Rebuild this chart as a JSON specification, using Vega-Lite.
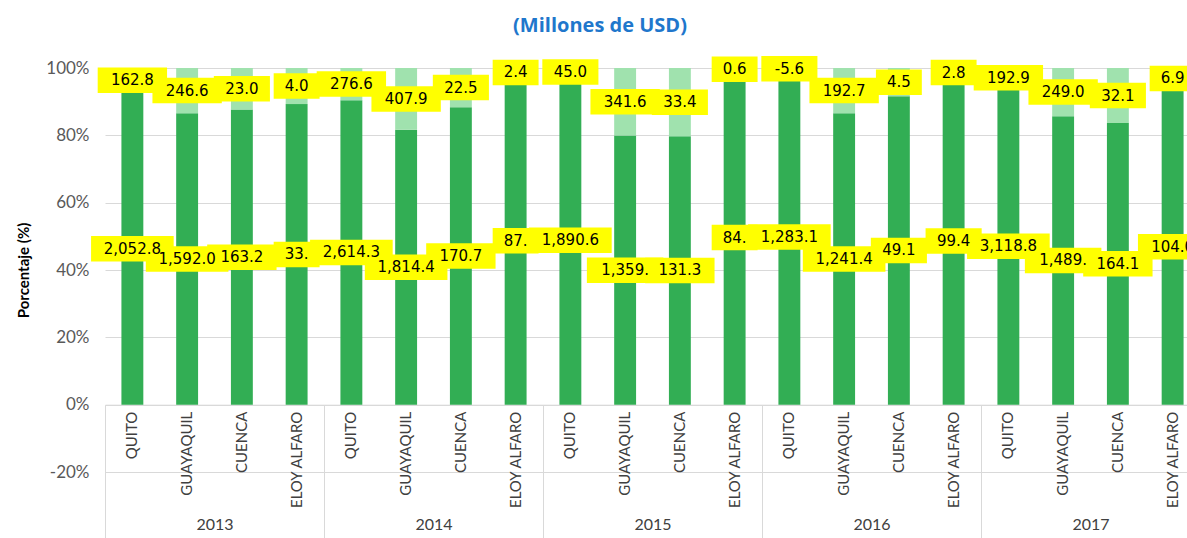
{
  "$schema": "https://vega.github.io/schema/vega-lite/v6.json",
  "width": 1082,
  "height": 404,
  "autosize": {"type": "none"},
  "padding": {"left": 105, "top": 68, "right": 0, "bottom": 66},
  "background": "white",
  "title": {
    "text": "(Millones de USD)",
    "color": "#1F77CC",
    "font": "Open Sans",
    "fontSize": 20,
    "fontWeight": "bold",
    "anchor": "middle",
    "frame": "group",
    "dx": -46,
    "offset": 20
  },
  "config": {"view": {"stroke": null}, "font": "Lato"},
  "data": {
    "values": [
      {"year": "2013", "city": "QUITO", "serie": "Serie 1", "value": 2052.8, "label": "2,052.8"},
      {"year": "2013", "city": "QUITO", "serie": "Serie 2", "value": 162.8, "label": "162.8"},
      {"year": "2013", "city": "GUAYAQUIL", "serie": "Serie 1", "value": 1592.0, "label": "1,592.0"},
      {"year": "2013", "city": "GUAYAQUIL", "serie": "Serie 2", "value": 246.6, "label": "246.6"},
      {"year": "2013", "city": "CUENCA", "serie": "Serie 1", "value": 163.2, "label": "163.2"},
      {"year": "2013", "city": "CUENCA", "serie": "Serie 2", "value": 23.0, "label": "23.0"},
      {"year": "2013", "city": "ELOY ALFARO", "serie": "Serie 1", "value": 33.3, "label": "33."},
      {"year": "2013", "city": "ELOY ALFARO", "serie": "Serie 2", "value": 4.0, "label": "4.0"},
      {"year": "2014", "city": "QUITO", "serie": "Serie 1", "value": 2614.3, "label": "2,614.3"},
      {"year": "2014", "city": "QUITO", "serie": "Serie 2", "value": 276.6, "label": "276.6"},
      {"year": "2014", "city": "GUAYAQUIL", "serie": "Serie 1", "value": 1814.4, "label": "1,814.4"},
      {"year": "2014", "city": "GUAYAQUIL", "serie": "Serie 2", "value": 407.9, "label": "407.9"},
      {"year": "2014", "city": "CUENCA", "serie": "Serie 1", "value": 170.7, "label": "170.7"},
      {"year": "2014", "city": "CUENCA", "serie": "Serie 2", "value": 22.5, "label": "22.5"},
      {"year": "2014", "city": "ELOY ALFARO", "serie": "Serie 1", "value": 87.5, "label": "87."},
      {"year": "2014", "city": "ELOY ALFARO", "serie": "Serie 2", "value": 2.4, "label": "2.4"},
      {"year": "2015", "city": "QUITO", "serie": "Serie 1", "value": 1890.6, "label": "1,890.6"},
      {"year": "2015", "city": "QUITO", "serie": "Serie 2", "value": 45.0, "label": "45.0"},
      {"year": "2015", "city": "GUAYAQUIL", "serie": "Serie 1", "value": 1359.5, "label": "1,359."},
      {"year": "2015", "city": "GUAYAQUIL", "serie": "Serie 2", "value": 341.6, "label": "341.6"},
      {"year": "2015", "city": "CUENCA", "serie": "Serie 1", "value": 131.3, "label": "131.3"},
      {"year": "2015", "city": "CUENCA", "serie": "Serie 2", "value": 33.4, "label": "33.4"},
      {"year": "2015", "city": "ELOY ALFARO", "serie": "Serie 1", "value": 84.5, "label": "84."},
      {"year": "2015", "city": "ELOY ALFARO", "serie": "Serie 2", "value": 0.6, "label": "0.6"},
      {"year": "2016", "city": "QUITO", "serie": "Serie 1", "value": 1283.1, "label": "1,283.1"},
      {"year": "2016", "city": "QUITO", "serie": "Serie 2", "value": -5.6, "label": "-5.6"},
      {"year": "2016", "city": "GUAYAQUIL", "serie": "Serie 1", "value": 1241.4, "label": "1,241.4"},
      {"year": "2016", "city": "GUAYAQUIL", "serie": "Serie 2", "value": 192.7, "label": "192.7"},
      {"year": "2016", "city": "CUENCA", "serie": "Serie 1", "value": 49.1, "label": "49.1"},
      {"year": "2016", "city": "CUENCA", "serie": "Serie 2", "value": 4.5, "label": "4.5"},
      {"year": "2016", "city": "ELOY ALFARO", "serie": "Serie 1", "value": 99.4, "label": "99.4"},
      {"year": "2016", "city": "ELOY ALFARO", "serie": "Serie 2", "value": 2.8, "label": "2.8"},
      {"year": "2017", "city": "QUITO", "serie": "Serie 1", "value": 3118.8, "label": "3,118.8"},
      {"year": "2017", "city": "QUITO", "serie": "Serie 2", "value": 192.9, "label": "192.9"},
      {"year": "2017", "city": "GUAYAQUIL", "serie": "Serie 1", "value": 1489.5, "label": "1,489."},
      {"year": "2017", "city": "GUAYAQUIL", "serie": "Serie 2", "value": 249.0, "label": "249.0"},
      {"year": "2017", "city": "CUENCA", "serie": "Serie 1", "value": 164.1, "label": "164.1"},
      {"year": "2017", "city": "CUENCA", "serie": "Serie 2", "value": 32.1, "label": "32.1"},
      {"year": "2017", "city": "ELOY ALFARO", "serie": "Serie 1", "value": 104.0, "label": "104.0"},
      {"year": "2017", "city": "ELOY ALFARO", "serie": "Serie 2", "value": 6.9, "label": "6.9"}
    ]
  },
  "layer": [
    {
      "mark": {"type": "bar"},
      "encoding": {
        "x": {
          "field": "year",
          "type": "ordinal",
          "scale": {"range": [0, 1095], "paddingInner": 0, "paddingOuter": 0},
          "axis": {
            "title": null,
            "orient": "bottom",
            "offset": -67.3,
            "labelAngle": 0,
            "domainColor": "#D9D9D9",
            "tickColor": "#D9D9D9",
            "tickSize": 133,
            "tickBand": "extent",
            "labelPadding": -21,
            "labelBaseline": "top",
            "labelFont": "Lato",
            "labelFontSize": 16,
            "labelColor": "#404040"
          }
        },
        "xOffset": {
          "field": "city",
          "type": "nominal",
          "sort": ["QUITO", "GUAYAQUIL", "CUENCA", "ELOY ALFARO"],
          "scale": {"paddingInner": 0.6, "paddingOuter": 0.3}
        },
        "y": {
          "field": "value",
          "type": "quantitative",
          "stack": "normalize",
          "scale": {"domain": [-0.2, 1], "nice": false, "zero": false},
          "axis": {
            "title": "Porcentaje (%)",
            "values": [-0.2, 0, 0.2, 0.4, 0.6, 0.8, 1],
            "labelExpr": "round(datum.value * 100) + '%'",
            "domain": false,
            "ticks": false,
            "gridColor": "#D9D9D9",
            "labelFont": "Lato",
            "labelFontSize": 17,
            "labelColor": "#595959",
            "labelPadding": 16,
            "titleFont": "Lato",
            "titleFontSize": 15,
            "titleFontWeight": "bold",
            "titleColor": "#000000",
            "titlePadding": 14
          }
        },
        "color": {
          "field": "serie",
          "type": "nominal",
          "scale": {"domain": ["Serie 1", "Serie 2"], "range": ["#32AE54", "#A0E2AE"]},
          "legend": null
        },
        "order": {"field": "serie", "sort": "ascending"}
      }
    },
    {
      "mark": {"type": "point", "filled": true, "opacity": 1, "color": "#FFFF00", "size": 2601, "strokeWidth": 0},
      "encoding": {
        "x": {"field": "year", "type": "ordinal"},
        "xOffset": {"field": "city", "type": "nominal", "sort": ["QUITO", "GUAYAQUIL", "CUENCA", "ELOY ALFARO"]},
        "y": {"field": "value", "type": "quantitative", "stack": "normalize", "bandPosition": 0.5},
        "detail": {"field": "serie"},
        "order": {"field": "serie", "sort": "ascending"},
        "shape": {
          "field": "label",
          "type": "nominal",
          "legend": null,
          "scale": {
            "domain": ["4.0", "33.", "87.", "2.4", "84.", "0.6", "4.5", "2.8", "6.9",
                       "23.0", "22.5", "45.0", "33.4", "-5.6", "49.1", "99.4", "32.1",
                       "162.8", "246.6", "163.2", "276.6", "407.9", "170.7", "341.6", "131.3", "192.7", "192.9", "249.0", "164.1", "104.0",
                       "1,359.", "1,489.",
                       "2,052.8", "1,592.0", "2,614.3", "1,814.4", "1,890.6", "1,283.1", "1,241.4", "3,118.8"],
            "range": ["M-0.9,-0.5H0.9V0.5H-0.9Z", "M-0.9,-0.5H0.9V0.5H-0.9Z", "M-0.9,-0.5H0.9V0.5H-0.9Z", "M-0.9,-0.5H0.9V0.5H-0.9Z", "M-0.9,-0.5H0.9V0.5H-0.9Z", "M-0.9,-0.5H0.9V0.5H-0.9Z", "M-0.9,-0.5H0.9V0.5H-0.9Z", "M-0.9,-0.5H0.9V0.5H-0.9Z", "M-0.9,-0.5H0.9V0.5H-0.9Z",
                      "M-1.1,-0.5H1.1V0.5H-1.1Z", "M-1.1,-0.5H1.1V0.5H-1.1Z", "M-1.1,-0.5H1.1V0.5H-1.1Z", "M-1.1,-0.5H1.1V0.5H-1.1Z", "M-1.1,-0.5H1.1V0.5H-1.1Z", "M-1.1,-0.5H1.1V0.5H-1.1Z", "M-1.1,-0.5H1.1V0.5H-1.1Z", "M-1.1,-0.5H1.1V0.5H-1.1Z",
                      "M-1.36,-0.5H1.36V0.5H-1.36Z", "M-1.36,-0.5H1.36V0.5H-1.36Z", "M-1.36,-0.5H1.36V0.5H-1.36Z", "M-1.36,-0.5H1.36V0.5H-1.36Z", "M-1.36,-0.5H1.36V0.5H-1.36Z", "M-1.36,-0.5H1.36V0.5H-1.36Z", "M-1.36,-0.5H1.36V0.5H-1.36Z", "M-1.36,-0.5H1.36V0.5H-1.36Z", "M-1.36,-0.5H1.36V0.5H-1.36Z", "M-1.36,-0.5H1.36V0.5H-1.36Z", "M-1.36,-0.5H1.36V0.5H-1.36Z", "M-1.36,-0.5H1.36V0.5H-1.36Z", "M-1.36,-0.5H1.36V0.5H-1.36Z",
                      "M-1.5,-0.5H1.5V0.5H-1.5Z", "M-1.5,-0.5H1.5V0.5H-1.5Z",
                      "M-1.62,-0.5H1.62V0.5H-1.62Z", "M-1.62,-0.5H1.62V0.5H-1.62Z", "M-1.62,-0.5H1.62V0.5H-1.62Z", "M-1.62,-0.5H1.62V0.5H-1.62Z", "M-1.62,-0.5H1.62V0.5H-1.62Z", "M-1.62,-0.5H1.62V0.5H-1.62Z", "M-1.62,-0.5H1.62V0.5H-1.62Z", "M-1.62,-0.5H1.62V0.5H-1.62Z"]
          }
        }
      }
    },
    {
      "mark": {"type": "text", "font": "DejaVu Sans", "fontSize": 15, "color": "#000000", "baseline": "middle", "align": "center"},
      "encoding": {
        "x": {"field": "year", "type": "ordinal"},
        "xOffset": {"field": "city", "type": "nominal", "sort": ["QUITO", "GUAYAQUIL", "CUENCA", "ELOY ALFARO"]},
        "y": {"field": "value", "type": "quantitative", "stack": "normalize", "bandPosition": 0.5},
        "detail": {"field": "serie"},
        "order": {"field": "serie", "sort": "ascending"},
        "text": {"field": "label"}
      }
    },
    {
      "transform": [{"filter": "datum.serie == 'Serie 1'"}],
      "mark": {"type": "text", "angle": 270, "align": "right", "baseline": "middle", "dx": -7, "font": "Lato", "fontSize": 15, "color": "#404040"},
      "encoding": {
        "x": {"field": "year", "type": "ordinal"},
        "xOffset": {"field": "city", "type": "nominal", "sort": ["QUITO", "GUAYAQUIL", "CUENCA", "ELOY ALFARO"]},
        "y": {"datum": 0, "type": "quantitative"},
        "text": {"field": "city"}
      }
    }
  ]
}
